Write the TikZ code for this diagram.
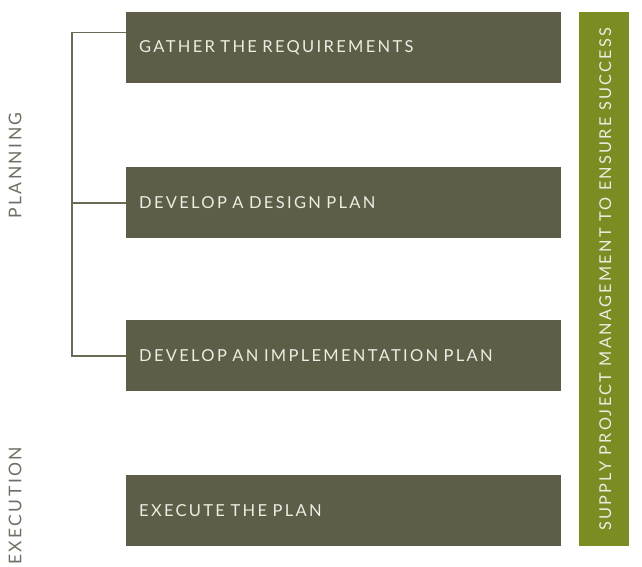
\documentclass[tikz,border=0pt]{standalone}
\usepackage{fontspec}
\setmainfont{Lato}
\newfontfamily\capsfont[LetterSpace=14]{Lato}
\usepackage{xcolor}
\usetikzlibrary{positioning, calc}

\definecolor{stepolive}{HTML}{5E5E48}
\definecolor{bargreen}{HTML}{7A8C22}
\definecolor{linegray}{HTML}{6B6B55}
\definecolor{labelgray}{HTML}{6E6E62}
\definecolor{boxtext}{HTML}{EDEDE4}

\tikzset{
  stepbox/.style={fill=stepolive, draw=none, anchor=north west, text width=409pt,
    inner xsep=13pt, inner ysep=0pt, minimum height=71pt, align=left,
    font=\capsfont\fontsize{16.5}{18}\selectfont, text=boxtext},
  phase/.style={rotate=90, inner sep=0pt, font=\capsfont\fontsize{17.5}{19}\selectfont, text=labelgray},
  bracket/.style={draw=linegray, line width=1.8pt}
}

\begin{document}
\begin{tikzpicture}[x=1pt, y=-1pt]
  \useasboundingbox (0,0) rectangle (642,567);

  % Steps
  \node[stepbox] (g1) at (126,12) {GATHER THE REQUIREMENTS};
  \node[stepbox] (g2) at (126,167) {DEVELOP A DESIGN PLAN};
  \node[stepbox] (g3) at (126,320) {DEVELOP AN IMPLEMENTATION PLAN};
  \node[stepbox] (g4) at (126,475) {EXECUTE THE PLAN};

  % Side bar
  \node[fill=bargreen, anchor=north west, minimum width=50pt, minimum height=534pt, inner sep=0pt] (bar) at (579,12) {};
  \node[rotate=90, inner sep=0pt, font=\capsfont\fontsize{16.3}{18}\selectfont, text=boxtext] (bartext) at ($(bar.center)+(1,0)$) {SUPPLY PROJECT MANAGEMENT TO ENSURE SUCCESS};

  % Phases
  \node[phase] (plan) at (15,165.5) {PLANNING};
  \node[phase, anchor=west] (exec) at (15,565) {EXECUTION};

  % Bracket
  \coordinate (brtop) at (72,32.5);
  \coordinate (brbot) at (brtop |- g3.west);
  \draw[bracket] (g1.west |- brtop) -- (brtop) -- (brbot) -- (g3.west);
  \draw[bracket] (brtop |- g2.west) -- (g2.west);
\end{tikzpicture}
\end{document}
